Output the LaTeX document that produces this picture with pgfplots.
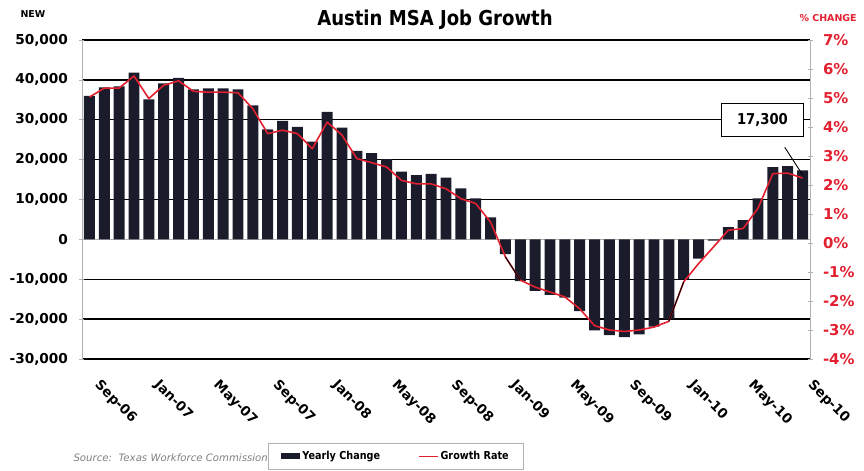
\documentclass[border=0pt]{standalone}
\usepackage{pgfplots}
\pgfplotsset{compat=1.18}
\usepackage{pgfplotstable}
\usepackage{fontspec}
\setmainfont{DejaVu Sans}
\newfontfamily\cond[FakeStretch=0.88]{DejaVu Sans}
\definecolor{barcol}{HTML}{1A1C2C}
\definecolor{linered}{HTML}{E2202F}

\pgfplotstableread{
x val pct
1 36000 5.03
2 38100 5.34
3 38400 5.34
4 41800 5.76
5 35100 4.98
6 39100 5.44
7 40500 5.59
8 37600 5.23
9 37900 5.20
10 37900 5.20
11 37600 5.18
12 33600 4.63
13 27600 3.77
14 29700 3.89
15 28200 3.77
16 24500 3.25
17 32000 4.17
18 28000 3.72
19 22200 2.91
20 21600 2.77
21 20100 2.62
22 17000 2.16
23 16100 2.04
24 16400 2.04
25 15500 1.87
26 12800 1.53
27 10300 1.36
28 5500 0.72
29 -3700 -0.48
30 -10500 -1.28
31 -12900 -1.52
32 -13900 -1.69
33 -14600 -1.86
34 -18000 -2.27
35 -22800 -2.85
36 -24000 -3.00
37 -24500 -3.05
38 -23800 -3.00
39 -21900 -2.90
40 -20000 -2.70
41 -10000 -1.34
42 -4800 -0.71
43 -300 -0.14
44 3100 0.44
45 4800 0.50
46 10300 1.20
47 18100 2.39
48 18400 2.41
49 17300 2.24
}\datatable

\begin{document}
\begin{tikzpicture}
\path[use as bounding box] (-82bp,-112bp) rectangle (782bp,359bp);
\node[anchor=west, text=gray, font=\itshape\fontsize{10.2}{10.2}\selectfont] at (-12bp,-99bp) {Source:\ \ Texas Workforce Commission};
\begin{axis}[
  at={(0bp,0bp)}, anchor=south west,
  scale only axis, width=728bp, height=319bp,
  xmin=0.5, xmax=49.5, ymin=-30000, ymax=50000,
  scaled y ticks=false,
  separate axis lines,
  x axis line style={draw=none},
  y axis line style={draw=gray!60, line width=0.8pt},
  ytick={-30000,-20000,-10000,10000,20000,30000,40000,50000},
  yticklabels={{-30,000},{-20,000},{-10,000},{10,000},{20,000},{30,000},{40,000},{50,000}},
  extra y ticks={0}, extra y tick labels={0},
  extra y tick style={major grid style={gray!60, line width=0.6pt}},
  ymajorgrids, major grid style={black, line width=1.3pt},
  ytick style={gray!60, line width=0.6pt}, ytick pos=left, ytick align=center,
  major tick length=5bp,
  yticklabel style={font=\bfseries\fontsize{13.7}{14}\selectfont, xshift=-8bp},
  xtick={1,5,...,49},
  xticklabels={Sep-06,Jan-07,May-07,Sep-07,Jan-08,May-08,Sep-08,Jan-09,May-09,Sep-09,Jan-10,May-10,Sep-10},
  xtick style={draw=none},
  xticklabel style={rotate=-45, anchor=north west, font=\bfseries\fontsize{13.5}{14}\selectfont, xshift=19bp, yshift=-2bp},
  legend columns=2,
  legend style={at={(0.2555,-0.2633)}, anchor=north west, draw=gray!60, line width=1pt,
    fill=white, font=\cond\bfseries\fontsize{11}{11}\selectfont,
    inner xsep=13bp, inner ysep=6bp,
    /tikz/every even column/.append style={column sep=36bp}},
  clip=false,
]
\addplot[ybar, bar width=0.74, fill=barcol, draw=none,
  legend image code/.code={\fill[barcol] (0bp,-3bp) rectangle (19bp,3bp);}]
  table[x=x, y=val] {\datatable};
\addlegendentry{Yearly Change}
\addlegendimage{legend image code/.code={\draw[linered, line width=1.5pt] (0bp,0bp) -- (19bp,0bp);}}
\addlegendentry{Growth Rate}
\end{axis}
\begin{axis}[
  at={(0bp,0bp)}, anchor=south west,
  scale only axis, width=728bp, height=319bp,
  xmin=0.5, xmax=49.5, ymin=-4, ymax=7,
  axis x line=none, axis y line*=right,
  axis line style={draw=gray!60, line width=0.8pt},
  ytick={-4,-3,...,7},
  yticklabels={{-4\%},{-3\%},{-2\%},{-1\%},{0\%},{1\%},{2\%},{3\%},{4\%},{5\%},{6\%},{7\%}},
  ytick style={gray!60, line width=0.6pt}, ytick align=center, major tick length=5bp,
  yticklabel style={font=\bfseries\fontsize{15}{15}\selectfont, text=linered, xshift=7bp},
  clip=false,
]
\addplot[linered, line width=1.6pt, mark=none, line join=round] table[x=x, y=pct] {\datatable};
\addplot[black, line width=1pt, mark=none] coordinates {(29,-0.48) (30,-1.28)};
\addplot[black, line width=1pt, mark=none] coordinates {(40,-2.70) (41,-1.34)};
\draw[black, line width=0.9pt] (axis cs:47.8,3.3) -- (axis cs:49.0,2.35);
\node[draw=black, line width=1pt, fill=white, minimum width=82bp, minimum height=33bp,
  font=\cond\bfseries\fontsize{15}{15}\selectfont] at (axis cs:46.3,4.25) {17,300};
\end{axis}
\node[anchor=west, font=\bfseries\fontsize{9.5}{9.5}\selectfont] at (-65bp,345bp) {NEW};
\node[anchor=west, text=linered, font=\bfseries\fontsize{9.5}{9.5}\selectfont] at (714bp,341bp) {\% CHANGE};
\node[font=\cond\bfseries\fontsize{20.6}{20.6}\selectfont] at (353bp,339bp) {Austin MSA Job Growth};
\end{tikzpicture}
\end{document}
